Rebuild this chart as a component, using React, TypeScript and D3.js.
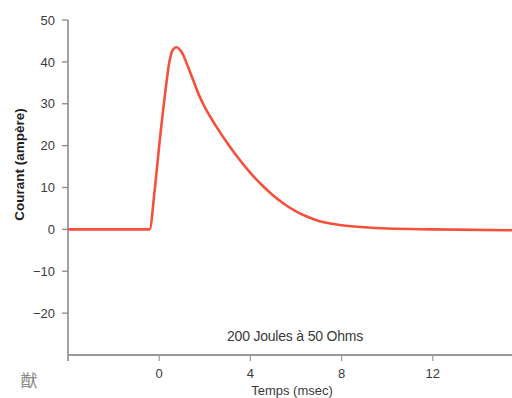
import React, { useEffect, useRef } from "react";
import * as d3 from "d3";

// Defibrillation current waveform: time (ms) vs current (A)
const timeMs: number[] = [-4, -0.42, -0.2, 0.02, 0.24, 0.46, 0.6, 0.75, 1.0, 1.25, 1.5, 1.75, 2.0, 2.5, 3.0, 3.5, 4.0, 4.5, 5.0, 5.5, 6.0, 6.5, 7.0, 7.5, 8.0, 9.0, 10, 12, 15.5];
const currentA: number[] = [0, 0, 9.3, 21, 31.6, 40.4, 42.9, 43.5, 42.2, 39.0, 35.5, 32.0, 29.2, 24.6, 20.5, 16.8, 13.5, 10.6, 8.1, 6.0, 4.3, 3.0, 2.0, 1.4, 1.0, 0.5, 0.2, 0, -0.2];

const yTicks: number[] = [-20, -10, 0, 10, 20, 30, 40, 50];
const xTicks: number[] = [0, 4, 8, 12];

const yLabel = "Courant (ampère)";
const xLabel = "Temps (msec)";
const note = "200 Joules à 50 Ohms";
const cornerMark = "猷";

const W = 512;
const H = 398;

export default function App() {
  const ref = useRef<SVGSVGElement>(null);

  useEffect(() => {
    const svg = d3.select(ref.current);
    svg.selectAll("*").remove();

    const x = d3.scaleLinear().domain([-4, 16]).range([68, 524]);
    const y = d3.scaleLinear().domain([-30, 50]).range([355, 20]);
    const font = "'Liberation Sans', Arial, sans-serif";
    const fmt = (v: number) => (v < 0 ? "\u2212" + Math.abs(v) : String(v));

    // y axis
    svg.append("line")
      .attr("x1", x(-4)).attr("x2", x(-4))
      .attr("y1", y(50)).attr("y2", 361)
      .attr("stroke", "#8a8a8a").attr("stroke-width", 1.6);

    const yt = svg.append("g");
    yTicks.forEach((v) => {
      yt.append("line")
        .attr("x1", x(-4) - 6).attr("x2", x(-4))
        .attr("y1", y(v)).attr("y2", y(v))
        .attr("stroke", "#8a8a8a").attr("stroke-width", 1.3);
      yt.append("text")
        .attr("x", 55).attr("y", y(v))
        .attr("dy", "0.36em")
        .attr("text-anchor", "end")
        .attr("font-family", font).attr("font-size", 13)
        .attr("fill", "#3a3a3a")
        .text(fmt(v));
    });

    // x axis
    svg.append("line")
      .attr("x1", x(-4)).attr("x2", W)
      .attr("y1", y(-30)).attr("y2", y(-30))
      .attr("stroke", "#9a9a9a").attr("stroke-width", 2);

    const xt = svg.append("g");
    xTicks.forEach((v) => {
      xt.append("line")
        .attr("x1", x(v)).attr("x2", x(v))
        .attr("y1", y(-30)).attr("y2", y(-30) + 6)
        .attr("stroke", "#9a9a9a").attr("stroke-width", 1.2);
      xt.append("text")
        .attr("x", x(v)).attr("y", 378)
        .attr("text-anchor", "middle")
        .attr("font-family", font).attr("font-size", 13)
        .attr("fill", "#3a3a3a")
        .text(fmt(v));
    });

    // current waveform
    const data = timeMs.map((t, i) => [t, currentA[i]] as [number, number]);
    const line = d3.line<[number, number]>()
      .x((d) => x(d[0]))
      .y((d) => y(d[1]))
      .curve(d3.curveMonotoneX);
    svg.append("path")
      .attr("d", line(data))
      .attr("fill", "none")
      .attr("stroke", "#f5503a")
      .attr("stroke-width", 2.6)
      .attr("stroke-linejoin", "round");

    // labels
    svg.append("text")
      .attr("transform", `translate(24, ${y(15.5)}) rotate(-90)`)
      .attr("text-anchor", "middle")
      .attr("font-family", font).attr("font-size", 13.5)
      .attr("font-weight", "bold")
      .attr("fill", "#1e1e1e")
      .text(yLabel);

    svg.append("text")
      .attr("x", 292).attr("y", 395)
      .attr("text-anchor", "middle")
      .attr("font-family", font).attr("font-size", 13)
      .attr("fill", "#3a3a3a")
      .text(xLabel);

    svg.append("text")
      .attr("x", 295).attr("y", 341)
      .attr("text-anchor", "middle")
      .attr("font-family", font).attr("font-size", 14)
      .attr("letter-spacing", "-0.2")
      .attr("fill", "#3a3a3a")
      .text(note);

    svg.append("text")
      .attr("x", 29).attr("y", 387)
      .attr("text-anchor", "middle")
      .attr("font-family", "'Noto Sans CJK SC', sans-serif").attr("font-size", 17)
      .attr("fill", "#8a8a8a")
      .text(cornerMark);
  }, []);

  return (
    <svg
      ref={ref}
      width={W}
      height={H}
      style={{ position: "absolute", left: 0, top: 0, background: "#fff" }}
    />
  );
}
